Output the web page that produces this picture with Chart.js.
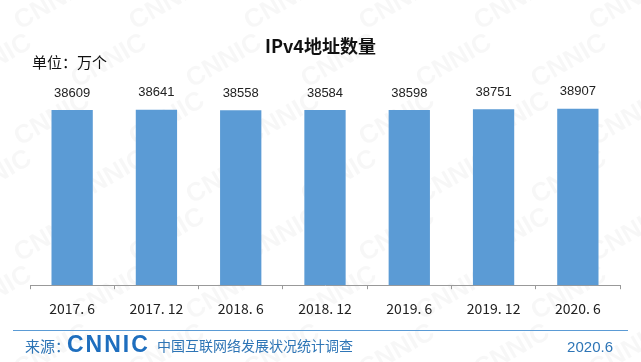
<!DOCTYPE html>
<html>
<head>
<meta charset="utf-8">
<script src="https://cdn.jsdelivr.net/npm/chart.js@4.4.0/dist/chart.umd.min.js"></script>
<style>
  html, body { margin: 0; padding: 0; background: #fff; }
  #wrap { position: relative; width: 641px; height: 362px; overflow: hidden; font-family: "Noto Sans CJK SC", "Liberation Sans", sans-serif; }
  #chart { position: absolute; left: 0; top: 0; }
  .txt { position: absolute; white-space: nowrap; line-height: 1; }
  #title { left: 0; width: 641px; top: 36px; text-align: center; font-size: 18px; font-weight: bold; color: #111; }
  #unit { left: 32px; top: 54px; font-size: 15px; color: #111; }
  #rule { position: absolute; left: 13px; width: 615px; top: 330px; height: 0; border-top: 1.5px solid #5b9bd5; }
  #src { left: 25px; top: 338px; font-size: 15px; color: #2e75b6; }
  #logo { left: 67px; top: 333px; font-family: "Liberation Sans", Arial, sans-serif; font-weight: 900; font-size: 23px; letter-spacing: 2px; color: #1e6ebe; }
  #survey { left: 157px; top: 338px; font-size: 14px; color: #2e75b6; }
  #date { right: 28px; top: 339px; font-family: "Liberation Sans", Arial, sans-serif; font-size: 15px; color: #2e75b6; }
</style>
</head>
<body>
<div id="wrap">
  <canvas id="chart" width="641" height="362"></canvas>
  <div class="txt" id="title">IPv4地址数量</div>
  <div class="txt" id="unit">单位：万个</div>
  <div id="rule"></div>
  <div class="txt" id="src">来源：</div>
  <div class="txt" id="logo">CNNIC</div>
  <div class="txt" id="survey">中国互联网络发展状况统计调查</div>
  <div class="txt" id="date">2020.6</div>
</div>
<script>
var periods = ['2017. 6', '2017. 12', '2018. 6', '2018. 12', '2019. 6', '2019. 12', '2020. 6'];
var ipv4Counts = [38609, 38641, 38558, 38584, 38598, 38751, 38907];

// faint CNNIC watermark behind everything
var watermark = {
    id: 'watermark',
    beforeDraw: function (chart) {
        var ctx = chart.ctx;
        ctx.save();
        ctx.font = 'bold 26px "Liberation Sans", Arial, sans-serif';
        ctx.fillStyle = 'rgba(0, 0, 0, 0.03)';
        for (var row = -1; row < 8; row++) {
            for (var col = -1; col < 7; col++) {
                var x = col * 115 + (row % 2) * 57 + 20;
                var y = row * 58 + 30;
                ctx.save();
                ctx.translate(x, y);
                ctx.rotate(-Math.PI / 6);
                ctx.fillText('CNNIC', 0, 0);
                ctx.restore();
            }
        }
        ctx.restore();
    }
};

// value labels above the bars
var valueLabels = {
    id: 'valueLabels',
    afterDatasetsDraw: function (chart) {
        var ctx = chart.ctx;
        var meta = chart.getDatasetMeta(0);
        ctx.save();
        ctx.font = '13px "Liberation Sans", Arial, sans-serif';
        ctx.fillStyle = '#222';
        ctx.textAlign = 'center';
        ctx.textBaseline = 'middle';
        meta.data.forEach(function (bar, i) {
            ctx.fillText(ipv4Counts[i], bar.x, bar.y - 17);
        });
        ctx.restore();
    }
};

var ctx = document.getElementById('chart').getContext('2d');
var ipv4Chart = new Chart(ctx, {
    type: 'bar',
    data: {
        labels: periods,
        datasets: [{
            data: ipv4Counts,
            backgroundColor: '#5b9bd5',
            borderWidth: 0,
            categoryPercentage: 1,
            barPercentage: 0.49
        }]
    },
    options: {
        responsive: false,
        animation: false,
        layout: {
            padding: { left: 30, right: 21, top: 81, bottom: 34 }
        },
        scales: {
            x: {
                grid: {
                    offset: true,
                    drawOnChartArea: false,
                    tickLength: 4,
                    color: '#999'
                },
                border: { color: '#999', width: 1 },
                ticks: {
                    padding: 11,
                    color: '#222',
                    maxRotation: 0,
                    font: { family: '"Noto Sans CJK SC", sans-serif', size: 14 }
                }
            },
            y: {
                display: false,
                min: 0,
                max: 45000
            }
        },
        plugins: {
            legend: { display: false },
            tooltip: { enabled: false }
        }
    },
    plugins: [watermark, valueLabels]
});
</script>
</body>
</html>
